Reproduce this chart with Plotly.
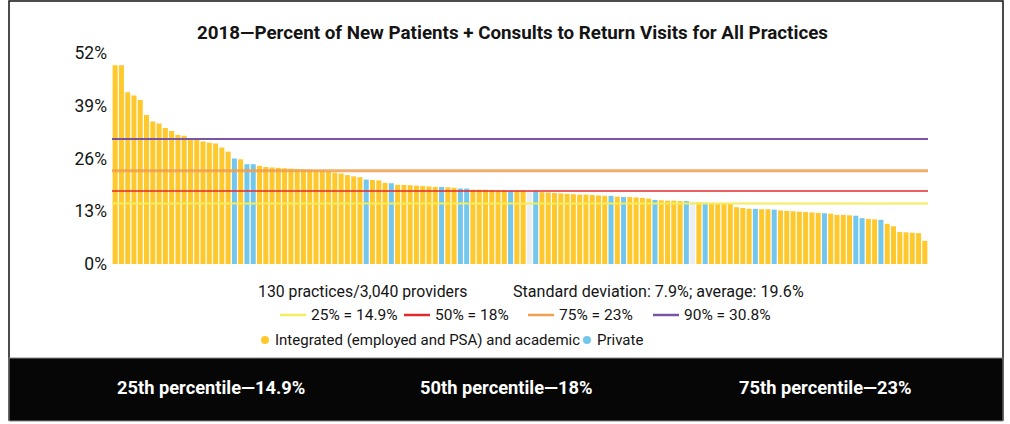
import plotly.graph_objects as go

# ---- data ----
values = [49.0, 49.0, 42.3, 41.5, 40.4, 36.7, 35.1, 34.6, 33.5, 32.8,
          31.8, 31.6, 31.0, 30.6, 30.2, 29.9, 29.7, 28.7, 27.7, 26.0,
          25.8, 24.6, 24.6, 24.2, 23.9, 23.8, 23.7, 23.6, 23.5, 23.4,
          23.3, 23.2, 23.1, 23.0, 22.8, 22.5, 22.3, 21.9, 21.6, 21.4,
          20.8, 20.7, 20.6, 20.0, 19.9, 19.5, 19.5, 19.4, 19.3, 19.2,
          19.1, 19.0, 19.0, 18.9, 18.8, 18.6, 18.6, 18.3, 18.3, 18.3,
          18.2, 18.1, 18.1, 18.0, 18.0, 18.0, 17.9, 17.9, 17.7, 17.6,
          17.5, 17.4, 17.3, 17.2, 17.1, 17.1, 17.0, 16.9, 16.8, 16.8,
          16.6, 16.5, 16.5, 16.4, 16.3, 16.1, 15.8, 15.7, 15.6, 15.6,
          15.5, 15.5, 15.4, 15.2, 15.1, 15.0, 15.0, 14.9, 14.9, 14.0,
          13.8, 13.6, 13.6, 13.5, 13.5, 13.4, 13.2, 13.1, 13.0, 12.9,
          12.8, 12.7, 12.6, 12.5, 12.4, 12.1, 12.1, 12.0, 11.9, 11.3,
          11.1, 11.0, 10.9, 9.9, 9.3, 7.9, 7.8, 7.7, 7.6, 5.7]
private_idx = [20, 22, 23, 41, 45, 53, 56, 57, 64, 68, 80, 82, 87, 92, 95,
               103, 106, 114, 119, 120, 123]
other_idx = [67, 93]

percentile_names = ["25%", "50%", "75%", "90%"]
percentile_values = [14.9, 18.0, 23.0, 30.8]
percentile_labels = ["25% = 14.9%", "50% = 18%", "75% = 23%", "90% = 30.8%"]

tick_vals = [0, 13, 26, 39, 52]
tick_text = ["0%", "13%", "26%", "39%", "52%"]

title = "2018\u2014Percent of New Patients + Consults to Return Visits for All Practices"
note_left = "130 practices/3,040 providers"
note_right = "Standard deviation: 7.9%; average: 19.6%"
group_labels = ["Integrated (employed and PSA) and academic", "Private"]
band_texts = ["25th percentile\u201414.9%", "50th percentile\u201418%", "75th percentile\u201423%"]

# ---- style ----
YELLOW = "#ffc82c"
BLUE = "#74c7ec"
PALE = "#eceff1"
line_colors = ["#f4ee5c", "#e32a2a", "#f0a04e", "#7a55a6"]
line_widths = [2, 1.6, 3, 2]
FONT = "Roboto, Liberation Sans, sans-serif"
INK = "#141414"

W, H = 1010, 424
L, R, T, B = 112, 928, 53, 264


def xp(px):
    return (px - L) / (R - L)


def yp(py):
    return (B - py) / (B - T)


colors = []
for i in range(1, len(values) + 1):
    if i in private_idx:
        colors.append(BLUE)
    elif i in other_idx:
        colors.append(PALE)
    else:
        colors.append(YELLOW)

fig = go.Figure()
fig.add_trace(go.Bar(
    x=list(range(len(values))), y=values,
    marker=dict(color=colors, line=dict(width=0)),
    hoverinfo="y", showlegend=False,
))

shapes = []
for v, c, w in zip(percentile_values, line_colors, line_widths):
    shapes.append(dict(type="line", xref="paper", x0=0, x1=1, yref="y", y0=v, y1=v,
                       line=dict(color=c, width=w), layer="above",
                       opacity=0.85 if c == line_colors[2] else 1))

shapes.append(dict(type="rect", xref="paper", yref="paper",
                   x0=xp(9), x1=xp(1003), y0=yp(420), y1=yp(1),
                   line=dict(color="#111", width=1.5), fillcolor="rgba(0,0,0,0)", layer="below"))
shapes.append(dict(type="rect", xref="paper", yref="paper",
                   x0=xp(9), x1=xp(1003), y0=yp(421), y1=yp(358),
                   line=dict(color="#888", width=1), fillcolor="#060606", layer="below"))

annotations = []
annotations.append(dict(text="<b>" + title + "</b>", x=xp(512), y=yp(33), xref="paper", yref="paper",
                        showarrow=False, xanchor="center", yanchor="middle",
                        font=dict(family=FONT, size=18.8, color=INK)))
annotations.append(dict(text=note_left, x=xp(256), y=yp(291), xref="paper", yref="paper",
                        showarrow=False, xanchor="left", yanchor="middle",
                        font=dict(family=FONT, size=15.8, color=INK)))
annotations.append(dict(text=note_right, x=xp(511), y=yp(291), xref="paper", yref="paper",
                        showarrow=False, xanchor="left", yanchor="middle",
                        font=dict(family=FONT, size=16.1, color=INK)))

seg_x = [280, 404, 528, 653]
for sx, c, lab in zip(seg_x, line_colors, percentile_labels):
    shapes.append(dict(type="line", xref="paper", yref="paper",
                       x0=xp(sx), x1=xp(sx + 26), y0=yp(315), y1=yp(315),
                       line=dict(color=c, width=2.5)))
    annotations.append(dict(text=lab, x=xp(sx + 29), y=yp(315), xref="paper", yref="paper",
                            showarrow=False, xanchor="left", yanchor="middle",
                            font=dict(family=FONT, size=15.5, color=INK)))

for cx, c, lab in zip([265, 587], [YELLOW, BLUE], group_labels):
    shapes.append(dict(type="circle", xref="paper", yref="paper",
                       x0=xp(cx - 4), x1=xp(cx + 4), y0=yp(344), y1=yp(336),
                       fillcolor=c, line=dict(width=0)))
    annotations.append(dict(text=lab, x=xp(cx + 8), y=yp(340), xref="paper", yref="paper",
                            showarrow=False, xanchor="left", yanchor="middle",
                            font=dict(family=FONT, size=15.0, color=INK)))

for cx, t in zip([211, 506, 825], band_texts):
    annotations.append(dict(text="<b>" + t + "</b>", x=xp(cx), y=yp(388), xref="paper", yref="paper",
                            showarrow=False, xanchor="center", yanchor="middle",
                            font=dict(family=FONT, size=18.3, color="#ffffff")))

fig.update_layout(
    width=W, height=H,
    margin=dict(l=L, r=W - R, t=T, b=H - B, pad=0),
    paper_bgcolor="white", plot_bgcolor="white",
    bargap=0.2,
    shapes=shapes, annotations=annotations,
    showlegend=False,
    xaxis=dict(range=[-0.5, len(values) - 0.5], showticklabels=False, showgrid=False,
               zeroline=False, showline=False, fixedrange=True),
    yaxis=dict(range=[0, 52], tickvals=tick_vals, ticktext=tick_text, showgrid=False,
               zeroline=False, showline=False, ticks="", ticklabelstandoff=4,
               tickfont=dict(family=FONT, size=17.5, color=INK), fixedrange=True),
)

fig.write_html("out.html", config={"displayModeBar": False},
               post_script="document.body.style.margin='0px';")
